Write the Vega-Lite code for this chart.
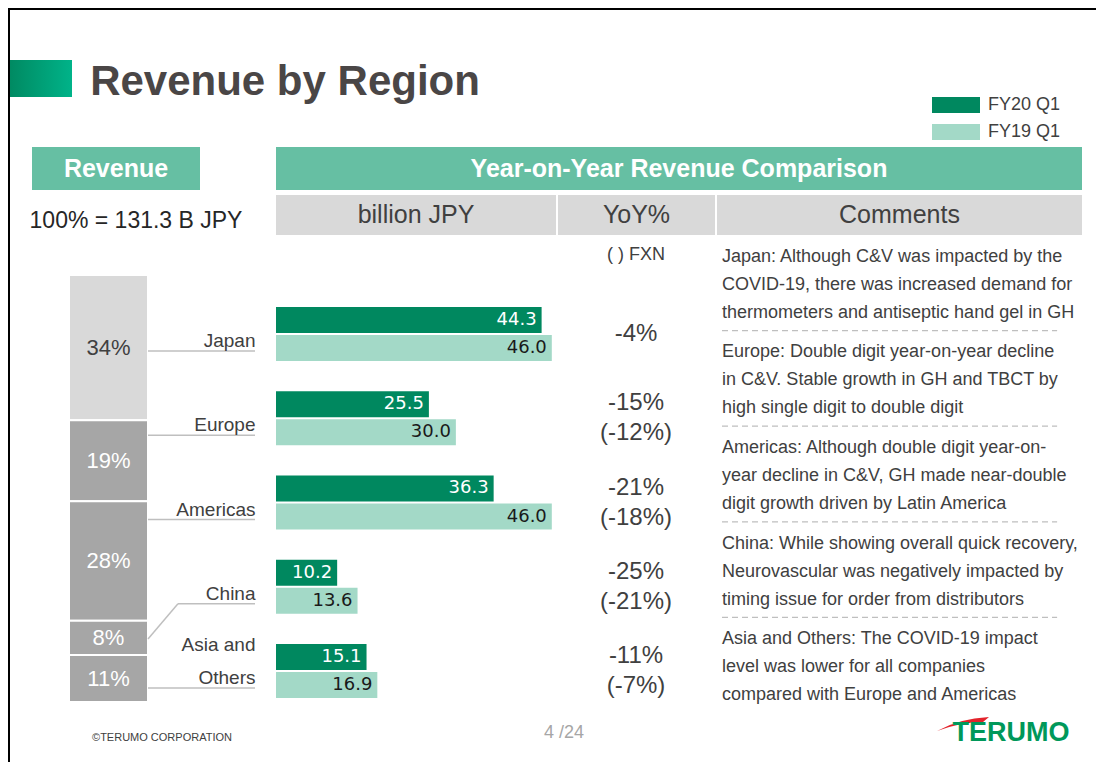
{
  "$schema": "https://vega.github.io/schema/vega-lite/v6.json",
  "padding": 0,
  "background": "#ffffff",
  "spacing": 0,
  "bounds": "full",
  "config": {
    "view": {"stroke": null},
    "concat": {"spacing": 0},
    "font": "Liberation Sans",
    "text": {"font": "Liberation Sans"}
  },
  "datasets": {
    "regions": [
      {"region": "Japan", "ord": 1, "market": "Domestic", "share": 0.34, "yoy": "-4%", "fxn": null, "comment": "Japan: Although C&V was impacted by the\nCOVID-19, there was increased demand for\nthermometers and antiseptic hand gel in GH"},
      {"region": "Europe", "ord": 2, "market": "Overseas", "share": 0.19, "yoy": "-15%", "fxn": "(-12%)", "comment": "Europe: Double digit year-on-year  decline\nin C&V. Stable growth in GH and TBCT by\nhigh single digit to double digit"},
      {"region": "Americas", "ord": 3, "market": "Overseas", "share": 0.28, "yoy": "-21%", "fxn": "(-18%)", "comment": "Americas: Although double digit year-on-\nyear decline in C&V, GH made near-double\ndigit growth driven by Latin America"},
      {"region": "China", "ord": 4, "market": "Overseas", "share": 0.08, "yoy": "-25%", "fxn": "(-21%)", "comment": "China: While showing overall quick recovery,\nNeurovascular was negatively impacted by\ntiming issue for order from distributors"},
      {"region": "Asia and Others", "ord": 5, "market": "Overseas", "share": 0.11, "yoy": "-11%", "fxn": "(-7%)", "comment": "Asia and Others: The COVID-19 impact\nlevel was lower for all companies\ncompared with Europe and Americas"}
    ],
    "revenue": [
      {"region": "Japan", "period": "FY20 Q1", "value": 44.3},
      {"region": "Japan", "period": "FY19 Q1", "value": 46.0},
      {"region": "Europe", "period": "FY20 Q1", "value": 25.5},
      {"region": "Europe", "period": "FY19 Q1", "value": 30.0},
      {"region": "Americas", "period": "FY20 Q1", "value": 36.3},
      {"region": "Americas", "period": "FY19 Q1", "value": 46.0},
      {"region": "China", "period": "FY20 Q1", "value": 10.2},
      {"region": "China", "period": "FY19 Q1", "value": 13.6},
      {"region": "Asia and Others", "period": "FY20 Q1", "value": 15.1},
      {"region": "Asia and Others", "period": "FY19 Q1", "value": 16.9}
    ]
  },
  "vconcat": [
    {"width": 1096, "height": 8, "data": {"values": []}, "mark": "point"},
    {"hconcat": [
      {"width": 8, "height": 2, "data": {"values": []}, "mark": "point"},
      {"width": 1088, "height": 2, "view": {"fill": "#000000", "stroke": null}, "data": {"values": []}, "mark": "point"}
    ], "spacing": 0, "bounds": "flush"},
    {"hconcat": [
      {"width": 8, "height": 50, "data": {"values": []}, "mark": "point"},
      {"width": 2, "height": 50, "view": {"fill": "#000000", "stroke": null}, "data": {"values": []}, "mark": "point"}
    ], "spacing": 0, "bounds": "flush"},
    {"hconcat": [
      {"width": 8, "height": 47, "data": {"values": []}, "mark": "point"},
      {"width": 2, "height": 47, "view": {"fill": "#000000", "stroke": null}, "data": {"values": []}, "mark": "point"},
      {"width": 62, "height": 37, "view": {"fill": {"gradient": "linear", "x1": 0, "y1": 0, "x2": 1, "y2": 0, "stops": [{"offset": 0, "color": "#008a62"}, {"offset": 1, "color": "#00b389"}]}, "stroke": null}, "data": {"values": []}, "mark": "point"},
      {"width": 20, "height": 47, "data": {"values": []}, "mark": "point"},
      {"width": 386, "height": 47, "data": {"values": [{"title": "Revenue by Region"}]},
       "mark": {"type": "text", "fontSize": 42, "fontWeight": "bold", "fill": "#4a4646", "baseline": "middle", "align": "center", "dy": -1.5},
       "encoding": {"text": {"field": "title", "type": "nominal"}}}
    ], "spacing": 0, "bounds": "flush"},
    {"hconcat": [
      {"width": 8, "height": 40, "data": {"values": []}, "mark": "point"},
      {"width": 2, "height": 40, "view": {"fill": "#000000", "stroke": null}, "data": {"values": []}, "mark": "point"}
    ], "spacing": 0, "bounds": "flush"},
    {"hconcat": [
      {"width": 8, "height": 43, "data": {"values": []}, "mark": "point"},
      {"width": 2, "height": 43, "view": {"fill": "#000000", "stroke": null}, "data": {"values": []}, "mark": "point"},
      {"width": 22, "height": 43, "data": {"values": []}, "mark": "point"},
      {"width": 168, "height": 43, "view": {"fill": "#66bfa3", "stroke": null}, "data": {"values": [{"header": "Revenue"}]},
       "mark": {"type": "text", "fontSize": 25, "fontWeight": "bold", "fill": "#ffffff", "baseline": "middle"},
       "encoding": {"text": {"field": "header", "type": "nominal"}}},
      {"width": 76, "height": 43, "data": {"values": []}, "mark": "point"},
      {"width": 806, "height": 43, "view": {"fill": "#66bfa3", "stroke": null}, "data": {"values": [{"header": "Year-on-Year Revenue Comparison"}]},
       "mark": {"type": "text", "fontSize": 25, "fontWeight": "bold", "fill": "#ffffff", "baseline": "middle"},
       "encoding": {"text": {"field": "header", "type": "nominal"}}}
    ], "spacing": 0, "bounds": "flush"},
    {"hconcat": [
      {"width": 8, "height": 5, "data": {"values": []}, "mark": "point"},
      {"width": 2, "height": 5, "view": {"fill": "#000000", "stroke": null}, "data": {"values": []}, "mark": "point"}
    ], "spacing": 0, "bounds": "flush"},
    {"hconcat": [
      {"width": 8, "height": 40, "data": {"values": []}, "mark": "point"},
      {"width": 2, "height": 40, "view": {"fill": "#000000", "stroke": null}, "data": {"values": []}, "mark": "point"},
      {"width": 264, "height": 40, "data": {"values": [{"note": "100% = 131.3 B JPY"}]},
       "mark": {"type": "text", "fontSize": 23, "fill": "#262626", "baseline": "middle", "dx": -6, "dy": 6},
       "encoding": {"text": {"field": "note", "type": "nominal"}}},
      {"width": 2, "height": 40, "data": {"values": []}, "mark": "point"},
      {"width": 280, "height": 40, "view": {"fill": "#d9d9d9", "stroke": null}, "data": {"values": [{"header": "billion JPY"}]},
       "mark": {"type": "text", "fontSize": 25, "fill": "#404040", "baseline": "middle"},
       "encoding": {"text": {"field": "header", "type": "nominal"}}},
      {"width": 2, "height": 40, "data": {"values": []}, "mark": "point"},
      {"width": 157, "height": 40, "view": {"fill": "#d9d9d9", "stroke": null}, "data": {"values": [{"header": "YoY%"}]},
       "mark": {"type": "text", "fontSize": 25, "fill": "#404040", "baseline": "middle"},
       "encoding": {"text": {"field": "header", "type": "nominal"}}},
      {"width": 2, "height": 40, "data": {"values": []}, "mark": "point"},
      {"width": 365, "height": 40, "view": {"fill": "#d9d9d9", "stroke": null}, "data": {"values": [{"header": "Comments"}]},
       "mark": {"type": "text", "fontSize": 25, "fill": "#404040", "baseline": "middle"},
       "encoding": {"text": {"field": "header", "type": "nominal"}}}
    ], "spacing": 0, "bounds": "flush"},
    {"hconcat": [
      {"width": 8, "height": 478, "data": {"values": []}, "mark": "point"},
      {"width": 2, "height": 478, "view": {"fill": "#000000", "stroke": null}, "data": {"values": []}, "mark": "point"},
      {"width": 59, "height": 478, "data": {"values": []}, "mark": "point"},
      {"width": 79, "height": 478,
       "data": {"name": "regions"},
       "transform": [
         {"stack": "share", "groupby": [], "sort": [{"field": "ord", "order": "descending"}], "as": ["s0", "s1"]},
         {"calculate": "(datum.s0 + datum.s1) / 2", "as": "s_mid"}
       ],
       "layer": [
         {"mark": {"type": "rect", "stroke": "#ffffff", "strokeWidth": 2},
          "encoding": {
            "y": {"field": "s0", "type": "quantitative", "scale": {"domain": [-0.02576, 1.09368], "nice": false, "zero": false}, "axis": null},
            "y2": {"field": "s1"},
            "color": {"condition": {"test": "datum.market === 'Domestic'", "value": "#d9d9d9"}, "value": "#a6a6a6"}
          }},
         {"mark": {"type": "text", "fontSize": 22, "baseline": "middle"},
          "encoding": {
            "y": {"field": "s_mid", "type": "quantitative"},
            "text": {"field": "share", "type": "quantitative", "format": ".0%"},
            "color": {"condition": {"test": "datum.market === 'Domestic'", "value": "#404040"}, "value": "#ffffff"}
          }}
       ]},
      {"width": 107, "height": 478,
       "data": {"name": "regions"},
       "layer": [
         {"transform": [{"filter": "datum.region !== 'China'"}],
          "mark": {"type": "rule", "color": "#bfbfbf", "strokeWidth": 1.5},
          "encoding": {
            "y": {"field": "region", "type": "nominal", "bandPosition": 0.702, "axis": null,
                  "scale": {"type": "band", "domain": ["Japan", "Europe", "Americas", "China", "Asia and Others"], "paddingInner": 0, "paddingOuter": 0.3385, "align": 1}}
          }},
         {"transform": [{"filter": "datum.region === 'China'"}],
          "mark": {"type": "rule", "color": "#bfbfbf", "strokeWidth": 1.5},
          "encoding": {
            "x": {"datum": 0.28, "type": "quantitative", "scale": {"domain": [0, 1], "nice": false, "zero": false}, "axis": null},
            "x2": {"datum": 1},
            "y": {"field": "region", "type": "nominal", "bandPosition": 0.702, "axis": null}
          }},
         {"transform": [{"filter": "datum.region === 'China'"}],
          "mark": {"type": "rule", "color": "#bfbfbf", "strokeWidth": 1.5},
          "encoding": {
            "x": {"datum": 0, "type": "quantitative", "axis": null},
            "x2": {"datum": 0.28},
            "y": {"field": "region", "type": "nominal", "bandPosition": 1.12, "axis": null},
            "y2": {"field": "region", "bandPosition": 0.702}
          }}
       ]},
      {"width": 21, "height": 478, "data": {"values": []}, "mark": "point"},
      {"width": 280, "height": 478,
       "data": {"name": "revenue"},
       "encoding": {
         "y": {"field": "region", "type": "nominal",
               "scale": {"type": "band", "domain": ["Japan", "Europe", "Americas", "China", "Asia and Others"], "paddingInner": 0, "paddingOuter": 0.3385, "align": 1},
               "axis": {"title": null, "domain": false, "ticks": false, "grid": false, "labelPadding": 21, "labelFontSize": 19, "labelColor": "#404040", "labelFont": "Liberation Sans", "labelBaseline": "alphabetic", "labelAlign": "right", "labelOffset": -20, "labelLineHeight": 33, "labelOverlap": false, "labelBound": false, "labelLimit": 300,
                        "labelExpr": "indexof(datum.label, ' and ') < 0 ? ['', datum.label] : split(replace(datum.label, ' and ', ' and|'), '|')"}},
         "yOffset": {"field": "period", "type": "nominal", "scale": {"domain": ["FY20 Q1", "FY19 Q1"], "paddingInner": 0.0714, "paddingOuter": 0.539}},
         "x": {"field": "value", "type": "quantitative", "scale": {"domain": [0, 46.7], "nice": false, "zero": false}, "axis": null}
       },
       "layer": [
         {"mark": {"type": "bar"},
          "encoding": {
            "color": {"field": "period", "type": "nominal",
                      "scale": {"domain": ["FY20 Q1", "FY19 Q1"], "range": ["#00885f", "#a3d9c7"]},
                      "legend": {"title": null, "orient": "none", "legendX": 947, "legendY": 96, "direction": "vertical",
                                 "symbolType": "M-4,-1.3333H4V1.3333H-4Z", "symbolSize": 144, "symbolStrokeWidth": 0, "symbolOpacity": 1,
                                 "labelOffset": 23, "labelFontSize": 18, "labelColor": "#404040", "labelFont": "Liberation Sans", "rowPadding": 9, "padding": 0}}
          }},
         {"mark": {"type": "text", "align": "right", "baseline": "middle", "dx": -5, "font": "DejaVu Sans", "fontSize": 18},
          "encoding": {
            "text": {"field": "value", "type": "quantitative", "format": ".1f"},
            "color": {"condition": {"test": "datum.period === 'FY20 Q1'", "value": "#ffffff"}, "value": "#1a1a1a"}
          }}
       ]},
      {"width": 160, "height": 478,
       "data": {"name": "regions"},
       "encoding": {
         "y": {"field": "region", "type": "nominal", "axis": null,
               "scale": {"type": "band", "domain": ["Japan", "Europe", "Americas", "China", "Asia and Others"], "paddingInner": 0, "paddingOuter": 0.3385, "align": 1}}
       },
       "layer": [
         {"data": {"values": [{"note": "( ) FXN"}]},
          "mark": {"type": "text", "fontSize": 18, "baseline": "middle", "fill": "#404040"},
          "encoding": {
            "y": {"datum": "Japan", "type": "nominal", "bandPosition": -0.44},
            "text": {"field": "note", "type": "nominal"}
          }},
         {"transform": [{"filter": "datum.fxn != null"}],
          "mark": {"type": "text", "fontSize": 24, "baseline": "middle", "dy": -15, "fill": "#404040"},
          "encoding": {"text": {"field": "yoy", "type": "nominal"}}},
         {"transform": [{"filter": "datum.fxn == null"}],
          "mark": {"type": "text", "fontSize": 24, "baseline": "middle", "fill": "#404040"},
          "encoding": {"text": {"field": "yoy", "type": "nominal"}}},
         {"transform": [{"filter": "datum.fxn != null"}],
          "mark": {"type": "text", "fontSize": 24, "baseline": "middle", "dy": 15, "fill": "#404040"},
          "encoding": {"text": {"field": "fxn", "type": "nominal"}}}
       ]},
      {"width": 366, "height": 478,
       "data": {"name": "regions"},
       "encoding": {
         "y": {"field": "region", "type": "nominal", "axis": null,
               "scale": {"type": "band", "domain": ["Japan", "Europe", "Americas", "China", "Asia and Others"], "paddingInner": 0, "paddingOuter": 0}}
       },
       "layer": [
         {"mark": {"type": "text", "align": "left", "baseline": "middle", "lineBreak": "\n", "lineHeight": 28, "fontSize": 18, "fill": "#404040", "dx": 6, "dy": -26},
          "encoding": {
            "x": {"datum": 0, "type": "quantitative", "scale": {"domain": [0, 1], "nice": false, "zero": false}, "axis": null},
            "text": {"field": "comment", "type": "nominal"}
          }},
         {"transform": [{"filter": "datum.ord > 1"}],
          "mark": {"type": "rule", "color": "#bfbfbf", "strokeWidth": 1.2, "strokeDash": [6, 4]},
          "encoding": {
            "x": {"datum": 0.0164, "type": "quantitative"},
            "x2": {"datum": 0.932},
            "y": {"field": "region", "type": "nominal", "bandPosition": 0}
          }}
       ]}
    ], "spacing": 0, "bounds": "flush"},
    {"hconcat": [
      {"width": 8, "height": 49, "data": {"values": []}, "mark": "point"},
      {"width": 2, "height": 49, "view": {"fill": "#000000", "stroke": null}, "data": {"values": []}, "mark": "point"},
      {"width": 304, "height": 49, "data": {"values": [{"footer": "©TERUMO CORPORATION"}]},
       "mark": {"type": "text", "fontSize": 11, "fill": "#404040", "baseline": "middle"},
       "encoding": {"text": {"field": "footer", "type": "nominal"}}},
      {"width": 500, "height": 49, "data": {"values": [{"page": "4 /24"}]},
       "mark": {"type": "text", "fontSize": 18, "fill": "#a6a6a6", "baseline": "middle", "dy": -5},
       "encoding": {"text": {"field": "page", "type": "nominal"}}},
      {"width": 136, "height": 49, "data": {"values": []}, "mark": "point"},
      {"width": 122, "height": 49, "data": {"values": [{"brand": "TERUMO"}]},
       "layer": [
         {"mark": {"type": "point", "shape": "M-7.4,-0.65 Q-5.2,-1.9 -2.2,-2.05 L-2.8,-1.55 Q-5.2,-1.5 -7.4,-0.65 Z", "size": 400, "filled": true, "fill": "#e3232b", "strokeWidth": 0, "opacity": 1},
          "encoding": {}},
         {"mark": {"type": "text", "fontSize": 27, "fontWeight": "bold", "fill": "#00985a", "baseline": "middle", "dy": -5},
          "encoding": {"text": {"field": "brand", "type": "nominal"}}}
       ]}
    ], "spacing": 0, "bounds": "flush"}
  ]
}
